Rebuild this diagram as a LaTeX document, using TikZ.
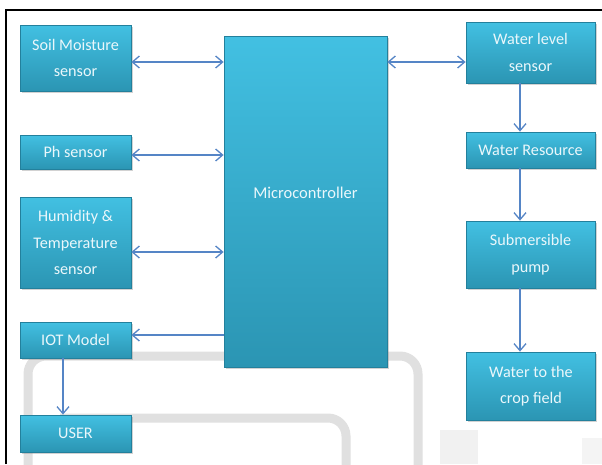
\documentclass[tikz,border=0pt]{standalone}
\usepackage{fontspec}
\setmainfont{Carlito}
\usetikzlibrary{arrows.meta,shadows,calc}
\definecolor{boxtop}{HTML}{42C0E2}
\definecolor{boxbot}{HTML}{2B95B3}
\definecolor{boxedge}{HTML}{23809C}
\definecolor{arrowc}{HTML}{5585C6}
\definecolor{txtc}{HTML}{EAF7FB}
\definecolor{ghost}{HTML}{E0E0E0}
\tikzset{
  blk/.style={rectangle, top color=boxtop, bottom color=boxbot, draw=boxedge, line width=0.8pt,
    text=txtc, align=center, inner sep=0pt,
    font=\fontsize{16.2}{26.5}\selectfont,
    drop shadow={opacity=0.35, shadow xshift=1.5pt, shadow yshift=-2pt}},
  conn/.style={draw=arrowc, line width=1.4pt},
  tip/.style={-{Straight Barb[length=7pt,width=12pt,line width=1.3pt]}},
  bitip/.style={{Straight Barb[length=7pt,width=12pt,line width=1.3pt]}-{Straight Barb[length=7pt,width=12pt,line width=1.3pt]}},
  ghostline/.style={draw=ghost, line width=9pt, rounded corners=18pt}
}
\begin{document}
\begin{tikzpicture}[x=1pt,y=-1pt]
\useasboundingbox (0,0) rectangle (602,464);
\fill[white] (0,0) rectangle (602,464);
% background page artefacts
\begin{scope}
\clip (0,0) rectangle (602,464);
\path[ghostline] (28,480) -- (28,356) -- (418,356) -- (418,480);
\path[ghostline] (60,418) -- (346,418) -- (346,480);
\fill[ghost!45] (440,430) rectangle (478,464);
\fill[ghost!35] (582,438) rectangle (602,464);
\end{scope}
% frame
\draw[black, line width=2pt] (5.7,464) -- (5.7,9.5) -- (602,9.5);
% nodes
\node[blk, minimum width=111pt, minimum height=66pt] (soil) at (75.5,58) {Soil Moisture\\sensor};
\node[blk, minimum width=111pt, minimum height=34pt] (ph) at (75.5,152) {Ph sensor};
\node[blk, minimum width=111pt, minimum height=91pt] (hum) at (75.5,242.5) {Humidity \&\\Temperature\\sensor};
\node[blk, minimum width=111pt, minimum height=36pt] (iot) at (75.5,340) {IOT Model};
\node[blk, minimum width=111pt, minimum height=37pt] (user) at (75.5,433.5) {USER};
\node[blk, minimum width=163pt, minimum height=331pt, font=\fontsize{16.5}{20}\selectfont] (micro) at (305.5,201.5) {\raisebox{18pt}{Microcontroller}};
\node[blk, minimum width=129pt, minimum height=61pt] (wl) at (530.5,52.5) {Water level\\sensor};
\node[blk, minimum width=129pt, minimum height=36pt] (wr) at (530.5,150) {Water Resource};
\node[blk, minimum width=129pt, minimum height=67pt] (pump) at (530.5,254.5) {Submersible\\pump};
\node[blk, minimum width=129pt, minimum height=68pt] (crop) at (531,386) {Water to the\\crop field};
% connector anchor points
\coordinate (cs) at ([yshift=-4pt]soil.east);
\coordinate (cp) at ([yshift=-3pt]ph.east);
\coordinate (ch) at ([yshift=-9.5pt]hum.east);
\coordinate (ci) at ([yshift=5pt]iot.east);
\coordinate (cw) at ([yshift=-9.5pt]wl.west);
% connectors
\draw[conn, bitip] (cs) -- (micro.west |- cs);
\draw[conn, bitip] (cp) -- (micro.west |- cp);
\draw[conn, bitip] (ch) -- (micro.west |- ch);
\draw[conn, tip] (micro.west |- ci) -- (ci);
\draw[conn, bitip] (micro.east |- cw) -- (cw);
\draw[conn, tip] ([xshift=-10.5pt]wl.south) -- ([xshift=-10.5pt]wr.north);
\draw[conn, tip] ([xshift=-10.5pt]wr.south) -- ([xshift=-10.5pt]pump.north);
\draw[conn, tip] ([xshift=-10.5pt]pump.south) -- ([xshift=-11pt]crop.north);
\draw[conn, tip] ([xshift=-12.5pt]iot.south) -- ([xshift=-12.5pt]user.north);
\end{tikzpicture}
\end{document}
